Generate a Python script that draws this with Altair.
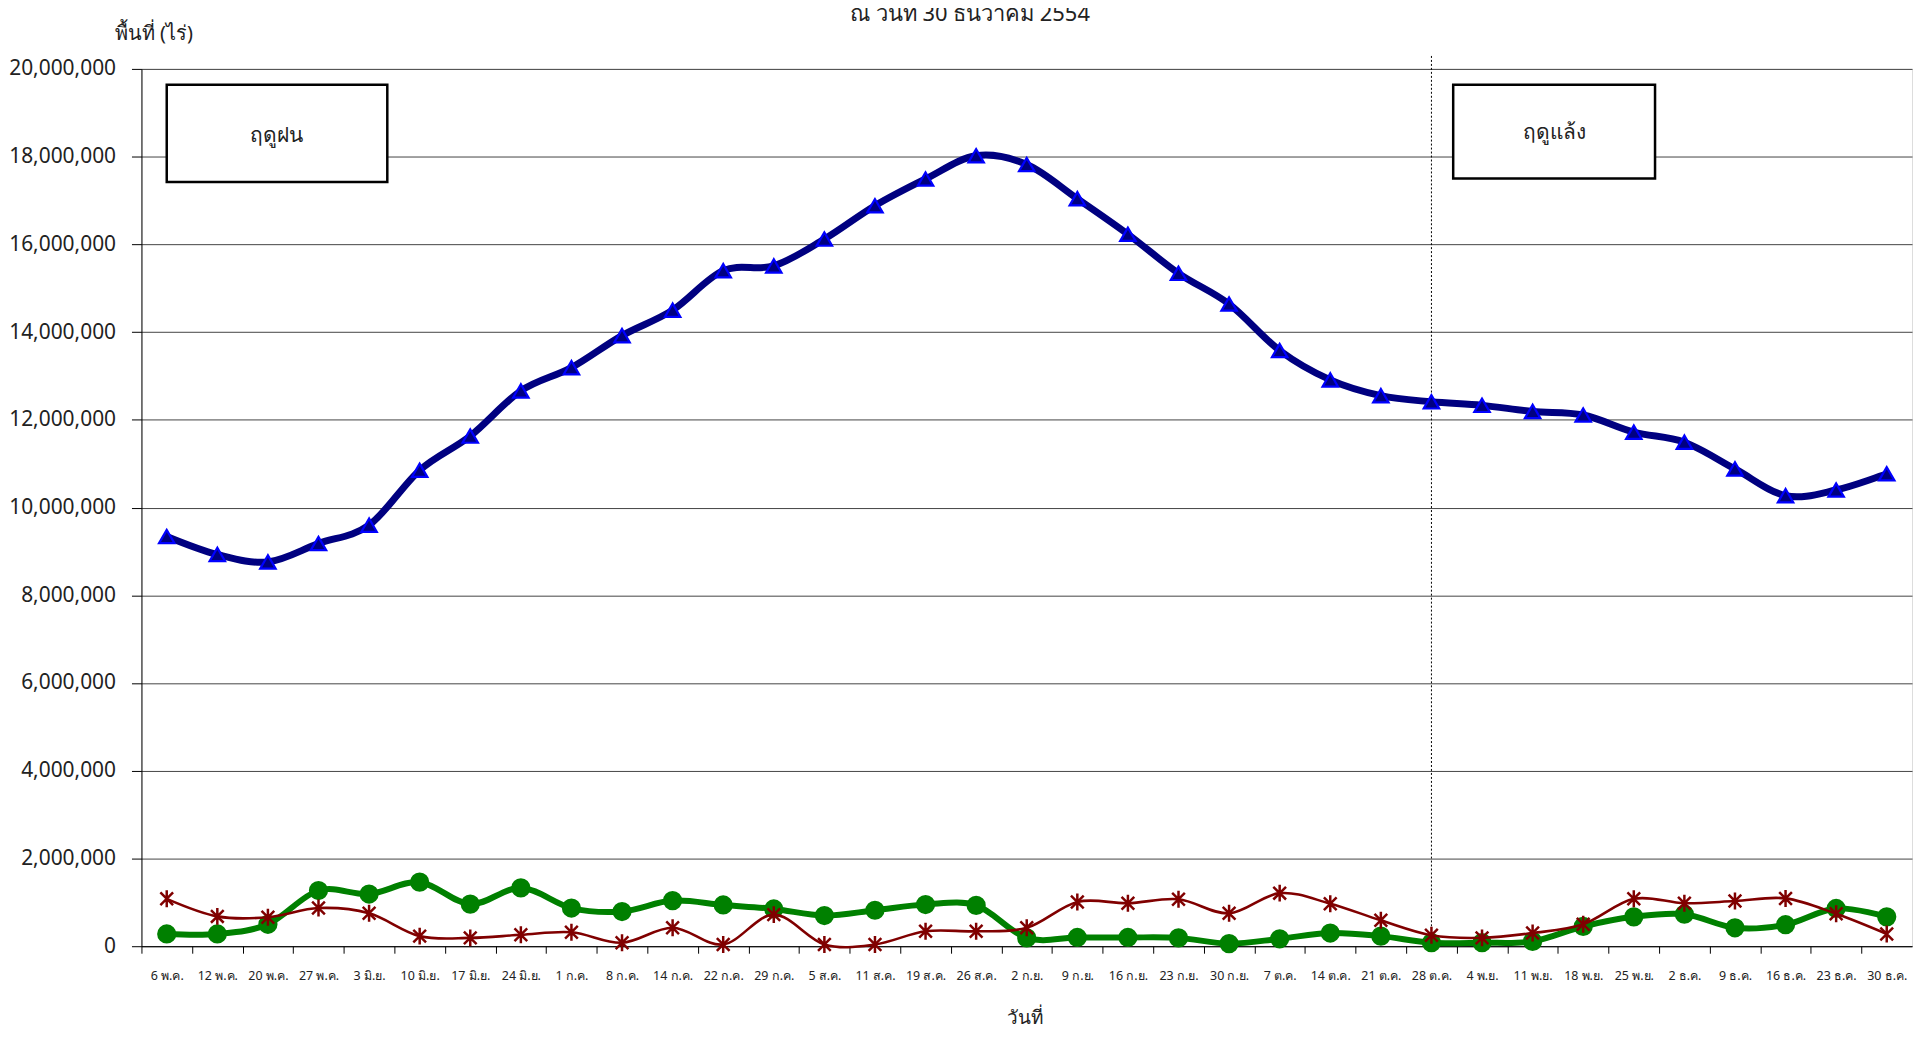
import altair as alt
import pandas as pd

# ---- data ----
dates = ["6 พ.ค.", "12 พ.ค.", "20 พ.ค.", "27 พ.ค.", "3 มิ.ย.", "10 มิ.ย.", "17 มิ.ย.", "24 มิ.ย.",
         "1 ก.ค.", "8 ก.ค.", "14 ก.ค.", "22 ก.ค.", "29 ก.ค.", "5 ส.ค.", "11 ส.ค.", "19 ส.ค.",
         "26 ส.ค.", "2 ก.ย.", "9 ก.ย.", "16 ก.ย.", "23 ก.ย.", "30 ก.ย.", "7 ต.ค.", "14 ต.ค.",
         "21 ต.ค.", "28 ต.ค.", "4 พ.ย.", "11 พ.ย.", "18 พ.ย.", "25 พ.ย.", "2 ธ.ค.", "9 ธ.ค.",
         "16 ธ.ค.", "23 ธ.ค.", "30 ธ.ค."]

series_blue = [9340000, 8930000, 8760000, 9180000, 9600000, 10850000, 11630000, 12660000,
               13190000, 13920000, 14500000, 15400000, 15510000, 16120000, 16880000, 17490000,
               18020000, 17820000, 17040000, 16230000, 15340000, 14640000, 13580000, 12910000,
               12550000, 12410000, 12330000, 12190000, 12110000, 11720000, 11490000, 10880000,
               10270000, 10400000, 10770000]

series_green = [280000, 280000, 500000, 1270000, 1190000, 1460000, 960000, 1330000,
                870000, 790000, 1040000, 940000, 850000, 700000, 820000, 950000,
                930000, 190000, 200000, 200000, 190000, 60000, 170000, 300000,
                230000, 80000, 80000, 110000, 450000, 670000, 730000, 420000,
                490000, 860000, 670000]

series_red = [1080000, 680000, 660000, 870000, 750000, 230000, 190000, 260000,
              320000, 80000, 420000, 40000, 720000, 40000, 40000, 340000,
              340000, 420000, 1010000, 980000, 1070000, 750000, 1210000, 970000,
              590000, 250000, 190000, 300000, 500000, 1080000, 980000, 1030000,
              1090000, 740000, 280000]

season_labels = ["ฤดูฝน", "ฤดูแล้ง"]
y_ticks = [0, 2000000, 4000000, 6000000, 8000000, 10000000, 12000000, 14000000,
           16000000, 18000000, 20000000]

df = pd.DataFrame({
    "idx": list(range(len(dates))),
    "date": dates,
    "blue": series_blue,
    "green": series_green,
    "red": series_red,
})

# annotation boxes (data coordinates)
boxes = pd.DataFrame({
    "label": season_labels,
    "x1": [0.0, 25.43],
    "x2": [4.36, 29.42],
    "y1": [17420000, 17500000],
    "y2": [19640000, 19640000],
    "tx": [2.16, 27.43],
    "ty": [18460000, 18530000],
})
divider = pd.DataFrame({"x": [25], "y1": [0], "y2": [20340000]})

W, H = 1778, 881
X_DOMAIN = [-0.5, 34.5]
band = W / 35.0
FONT = "Noto Sans"

label_arr = "[" + ",".join("'" + d + "'" for d in dates) + "]"

x_scale = alt.Scale(domain=X_DOMAIN, nice=False, zero=False)
x_enc = alt.X(
    "idx:Q",
    scale=x_scale,
    axis=alt.Axis(
        values=list(range(len(dates))),
        labelExpr=label_arr + "[datum.value]",
        tickOffset=-band / 2,
        labelOffset=band / 2,
        tickSize=7,
        tickColor="black",
        domainColor="black",
        labelPadding=16,
        labelFontSize=12.5,
        labelFont=FONT,
        labelColor="#222222",
        labelOverlap=False,
        grid=False,
        title="วันที่",
        titleFont=FONT,
        titleFontSize=19,
        titleFontWeight="normal",
        titleColor="#222222",
        titleX=887,
        titleY=72,
        titleBaseline="middle",
    ),
)
y_scale = alt.Scale(domain=[0, 20000000], nice=False)
y_enc_axis = alt.Axis(
    values=y_ticks,
    format=",d",
    tickSize=10,
    tickColor="black",
    domainColor="black",
    gridColor="#444444",
    gridWidth=1,
    labelPadding=16,
    labelFontSize=21,
    labelFont=FONT,
    labelColor="#222222",
    title="พื้นที่ (ไร่)",
    titleFont=FONT,
    titleFontSize=20,
    titleFontWeight="normal",
    titleColor="#222222",
    titleAngle=0,
    titleX=12,
    titleY=-36,
    titleAlign="center",
    titleBaseline="middle",
)

base = alt.Chart(df)

def interp_line(field, color, width):
    return base.mark_line(color=color, strokeWidth=width, interpolate="cardinal").encode(
        x=x_enc, y=alt.Y(f"{field}:Q", scale=y_scale, axis=y_enc_axis)
    )

blue_line = interp_line("blue", "#000080", 7)
blue_pts = base.mark_point(shape="triangle-up", filled=True, fill="#000080", stroke="#0000ff",
                           strokeWidth=2.2, size=240, opacity=1).encode(
    x=x_enc, y=alt.Y("blue:Q", scale=y_scale, axis=y_enc_axis))

green_line = interp_line("green", "#008000", 6)
green_pts = base.mark_point(shape="circle", filled=True, fill="#008000", stroke="#008000",
                            size=300, opacity=1).encode(
    x=x_enc, y=alt.Y("green:Q", scale=y_scale, axis=y_enc_axis))

red_line = interp_line("red", "#800000", 2.6)
asterisk = "M0,-1L0,1M-0.75,-0.75L0.75,0.75M-0.75,0.75L0.75,-0.75"
red_pts = base.mark_point(shape=asterisk, filled=False, stroke="#800000", strokeWidth=2.5,
                          size=290, opacity=1).encode(
    x=x_enc, y=alt.Y("red:Q", scale=y_scale, axis=y_enc_axis))

rule = alt.Chart(divider).mark_rule(color="black", strokeWidth=1, strokeDash=[2, 2]).encode(
    x=alt.X("x:Q", scale=x_scale),
    y=alt.Y("y1:Q", scale=y_scale), y2="y2:Q")

box_rect = alt.Chart(boxes).mark_rect(fill="white", stroke="black", strokeWidth=2.5).encode(
    x="x1:Q", x2="x2:Q", y="y1:Q", y2="y2:Q")
box_text = alt.Chart(boxes).mark_text(font=FONT, fontSize=21, color="#222222",
                                      baseline="middle", align="center").encode(
    x="tx:Q", y="ty:Q", text="label:N")

chart = alt.layer(
    rule, blue_line, blue_pts, green_line, green_pts, red_line, red_pts, box_rect, box_text
).properties(
    width=W,
    height=H,
    autosize=alt.AutoSizeParams(type="none"),
    padding={"left": 134, "top": 59, "right": 6, "bottom": 86},
    title=alt.TitleParams(
        "ณ  วันที่ 30 ธันวาคม 2554",
        font=FONT, fontSize=22, fontWeight="normal", color="#222222",
        anchor="middle", dx=-57, offset=-3,
    ),
).configure_view(stroke=None).configure(background="white")

chart.save("out.html", embed_options={"renderer": "svg", "actions": False})
